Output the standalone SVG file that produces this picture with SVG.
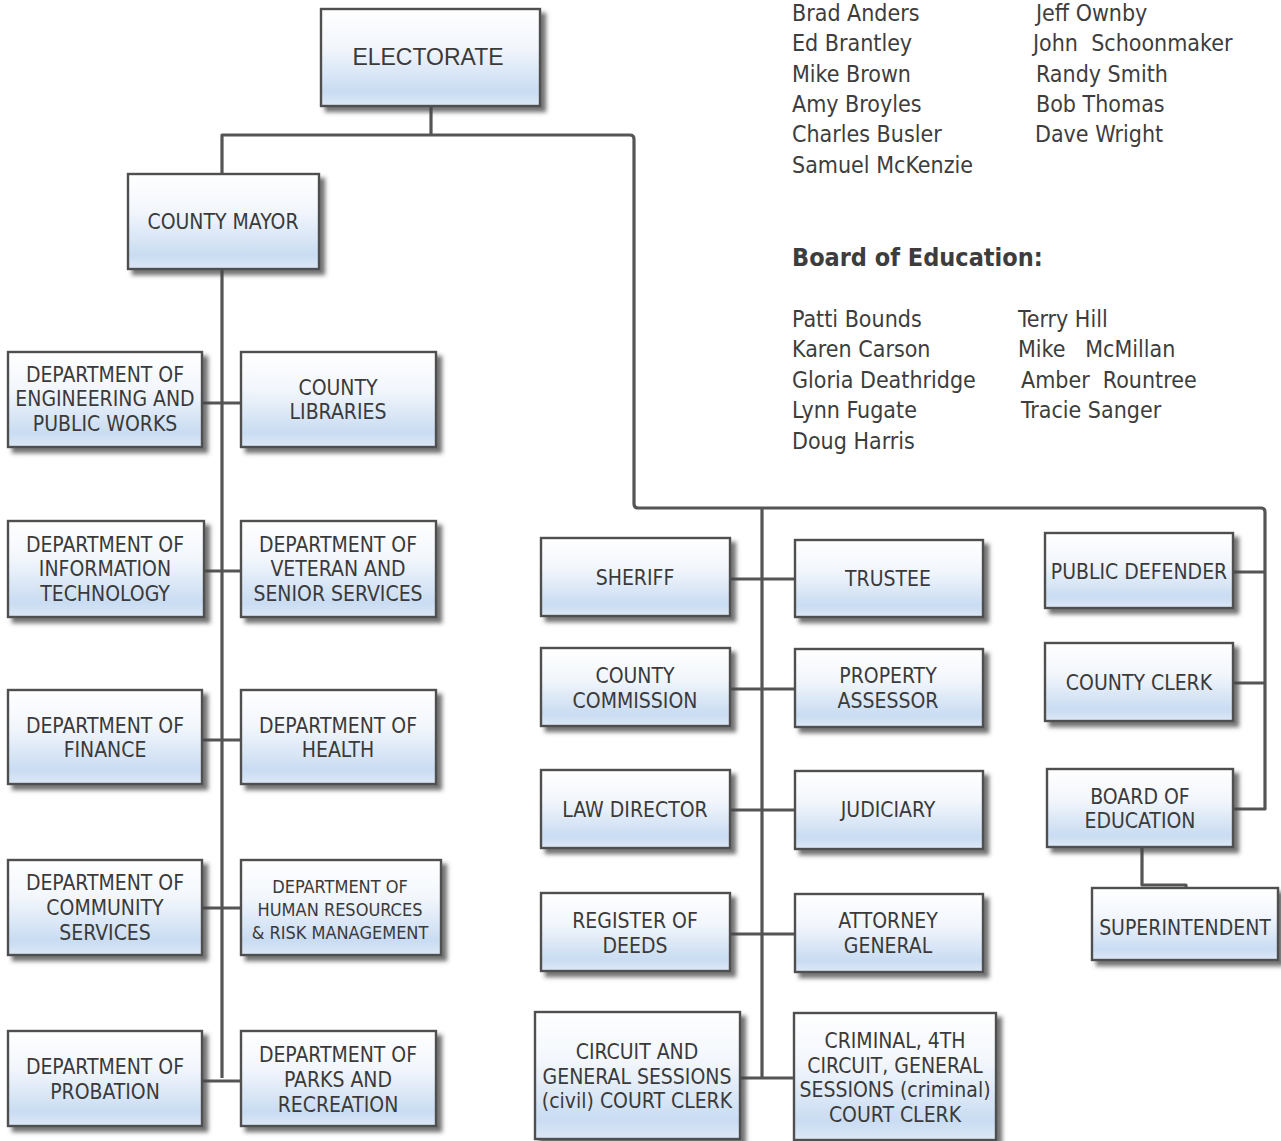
<svg xmlns="http://www.w3.org/2000/svg" width="1281" height="1141" viewBox="0 0 1281 1141">
<defs>
<linearGradient id="bg" x1="0" y1="0" x2="0" y2="1">
<stop offset="0" stop-color="#ffffff"/>
<stop offset="0.4" stop-color="#f2f6fc"/>
<stop offset="0.85" stop-color="#c9dcf2"/>
<stop offset="1" stop-color="#dde8f6"/>
</linearGradient>
<filter id="sh" x="-10%" y="-10%" width="130%" height="130%">
<feGaussianBlur in="SourceAlpha" stdDeviation="2.2"/>
<feOffset dx="5" dy="5" result="b"/>
<feFlood flood-color="#444" flood-opacity="0.75"/>
<feComposite in2="b" operator="in"/>
<feMerge><feMergeNode/><feMergeNode in="SourceGraphic"/></feMerge>
</filter>
</defs>
<style>
.box{fill:url(#bg);stroke:#505050;stroke-width:2.4;filter:url(#sh)}
.t{font-family:"DejaVu Sans Condensed","DejaVu Sans",sans-serif;font-size:21px;fill:#3a3a3a;text-anchor:middle}
.s{font-size:18px}
.n{font-family:"DejaVu Sans Condensed","DejaVu Sans",sans-serif;font-size:23px;fill:#3d3d3d;white-space:pre}
.h{font-family:"DejaVu Sans Condensed","DejaVu Sans",sans-serif;font-size:25px;font-weight:bold;fill:#3d3d3d}
.c{fill:none;stroke:#555;stroke-width:3.2;stroke-linejoin:round}
</style>
<rect width="1281" height="1141" fill="#fff"/>

<g id="connectors">
<path class="c" d="M431 106 V135"/>
<path class="c" d="M222 175 V135 H630 Q634 135 634 139 V504 Q634 508 638 508 H1261 Q1265 508 1265 512 V809 H1233"/>
<path class="c" d="M222 269 V1078"/>
<path class="c" d="M202 403 H241 M204 571 H241 M202 740 H241 M202 908 H241 M202 1081 H241"/>
<path class="c" d="M762 508 V1078"/>
<path class="c" d="M730 579 H795 M730 689 H795 M730 810 H795 M730 934 H795 M740 1078 H794"/>
<path class="c" d="M1233 572 H1265 M1233 683 H1265"/>
<path class="c" d="M1142 847 V885 H1186 V888"/>
</g>

<g id="electorate"><rect class="box" x="321" y="9" width="219" height="97"/>
<text x="428" y="65" style="font-family:'Liberation Sans',Arial,sans-serif;font-size:23px;fill:#3a3a3a;text-anchor:middle">ELECTORATE</text></g>

<g id="county-mayor"><rect class="box" x="128" y="174" width="191" height="95"/>
<text class="t" x="223" y="229">COUNTY MAYOR</text></g>

<g id="dept-engineering"><rect class="box" x="8" y="352" width="194" height="95"/>
<text class="t" x="105" y="382">DEPARTMENT OF</text><text class="t" x="105" y="406">ENGINEERING AND</text><text class="t" x="105" y="431">PUBLIC WORKS</text></g>

<g id="county-libraries"><rect class="box" x="241" y="352" width="195" height="95"/>
<text class="t" x="338" y="395">COUNTY</text><text class="t" x="338" y="419">LIBRARIES</text></g>

<g id="dept-it"><rect class="box" x="8" y="521" width="196" height="96"/>
<text class="t" x="105" y="552">DEPARTMENT OF</text><text class="t" x="105" y="576">INFORMATION</text><text class="t" x="105" y="601">TECHNOLOGY</text></g>

<g id="dept-veteran"><rect class="box" x="241" y="521" width="195" height="96"/>
<text class="t" x="338" y="552">DEPARTMENT OF</text><text class="t" x="338" y="576">VETERAN AND</text><text class="t" x="338" y="601">SENIOR SERVICES</text></g>

<g id="dept-finance"><rect class="box" x="8" y="690" width="194" height="94"/>
<text class="t" x="105" y="733">DEPARTMENT OF</text><text class="t" x="105" y="757">FINANCE</text></g>

<g id="dept-health"><rect class="box" x="241" y="690" width="195" height="94"/>
<text class="t" x="338" y="733">DEPARTMENT OF</text><text class="t" x="338" y="757">HEALTH</text></g>

<g id="dept-community"><rect class="box" x="8" y="860" width="194" height="95"/>
<text class="t" x="105" y="890">DEPARTMENT OF</text><text class="t" x="105" y="915">COMMUNITY</text><text class="t" x="105" y="940">SERVICES</text></g>

<g id="dept-hr"><rect class="box" x="241" y="860" width="200" height="95"/>
<text class="t s" x="340" y="893">DEPARTMENT OF</text><text class="t s" x="340" y="916">HUMAN RESOURCES</text><text class="t s" x="340" y="939">&amp; RISK MANAGEMENT</text></g>

<g id="dept-probation"><rect class="box" x="8" y="1031" width="194" height="95"/>
<text class="t" x="105" y="1074">DEPARTMENT OF</text><text class="t" x="105" y="1099">PROBATION</text></g>

<g id="dept-parks"><rect class="box" x="241" y="1031" width="195" height="95"/>
<text class="t" x="338" y="1062">DEPARTMENT OF</text><text class="t" x="338" y="1087">PARKS AND</text><text class="t" x="338" y="1112">RECREATION</text></g>

<g id="sheriff"><rect class="box" x="541" y="538" width="189" height="78"/>
<text class="t" x="635" y="585">SHERIFF</text></g>
<g id="trustee"><rect class="box" x="795" y="540" width="188" height="77"/>
<text class="t" x="888" y="586">TRUSTEE</text></g>

<g id="county-commission"><rect class="box" x="541" y="648" width="189" height="78"/>
<text class="t" x="635" y="683">COUNTY</text><text class="t" x="635" y="708">COMMISSION</text></g>
<g id="property-assessor"><rect class="box" x="795" y="649" width="188" height="78"/>
<text class="t" x="888" y="683">PROPERTY</text><text class="t" x="888" y="708">ASSESSOR</text></g>

<g id="law-director"><rect class="box" x="541" y="770" width="189" height="78"/>
<text class="t" x="635" y="817">LAW DIRECTOR</text></g>
<g id="judiciary"><rect class="box" x="795" y="771" width="188" height="78"/>
<text class="t" x="888" y="817">JUDICIARY</text></g>

<g id="register-deeds"><rect class="box" x="541" y="893" width="189" height="78"/>
<text class="t" x="635" y="928">REGISTER OF</text><text class="t" x="635" y="953">DEEDS</text></g>
<g id="attorney-general"><rect class="box" x="795" y="894" width="188" height="78"/>
<text class="t" x="888" y="928">ATTORNEY</text><text class="t" x="888" y="953">GENERAL</text></g>

<g id="circuit-civil"><rect class="box" x="535" y="1012" width="205" height="127"/>
<text class="t" x="637" y="1059">CIRCUIT AND</text><text class="t" x="637" y="1084">GENERAL SESSIONS</text><text class="t" x="637" y="1108">(civil) COURT CLERK</text></g>
<g id="criminal-clerk"><rect class="box" x="794" y="1013" width="202" height="127"/>
<text class="t" x="895" y="1048">CRIMINAL, 4TH</text><text class="t" x="895" y="1073">CIRCUIT, GENERAL</text><text class="t" x="895" y="1097">SESSIONS (criminal)</text><text class="t" x="895" y="1122">COURT CLERK</text></g>

<g id="public-defender"><rect class="box" x="1045" y="533" width="188" height="75"/>
<text class="t" x="1139" y="579">PUBLIC DEFENDER</text></g>
<g id="county-clerk"><rect class="box" x="1045" y="643" width="188" height="78"/>
<text class="t" x="1139" y="690">COUNTY CLERK</text></g>
<g id="board-education"><rect class="box" x="1047" y="769" width="186" height="78"/>
<text class="t" x="1140" y="804">BOARD OF</text><text class="t" x="1140" y="828">EDUCATION</text></g>
<g id="superintendent"><rect class="box" x="1092" y="888" width="186" height="72"/>
<text class="t" x="1185" y="935">SUPERINTENDENT</text></g>

<g id="names">
<text class="n" x="792" y="21">Brad Anders</text>
<text class="n" x="792" y="51">Ed Brantley</text>
<text class="n" x="792" y="82">Mike Brown</text>
<text class="n" x="792" y="112">Amy Broyles</text>
<text class="n" x="792" y="142">Charles Busler</text>
<text class="n" x="792" y="173">Samuel McKenzie</text>
<text class="n" x="1036" y="21">Jeff Ownby</text>
<text class="n" x="1033" y="51">John  Schoonmaker</text>
<text class="n" x="1036" y="82">Randy Smith</text>
<text class="n" x="1036" y="112">Bob Thomas</text>
<text class="n" x="1035" y="142">Dave Wright</text>
<text class="h" x="792" y="266">Board of Education:</text>
<text class="n" x="792" y="327">Patti Bounds</text>
<text class="n" x="792" y="357">Karen Carson</text>
<text class="n" x="792" y="388">Gloria Deathridge</text>
<text class="n" x="792" y="418">Lynn Fugate</text>
<text class="n" x="792" y="449">Doug Harris</text>
<text class="n" x="1018" y="327">Terry Hill</text>
<text class="n" x="1018" y="357">Mike   McMillan</text>
<text class="n" x="1021" y="388">Amber  Rountree</text>
<text class="n" x="1021" y="418">Tracie Sanger</text>
</g>
</svg>
